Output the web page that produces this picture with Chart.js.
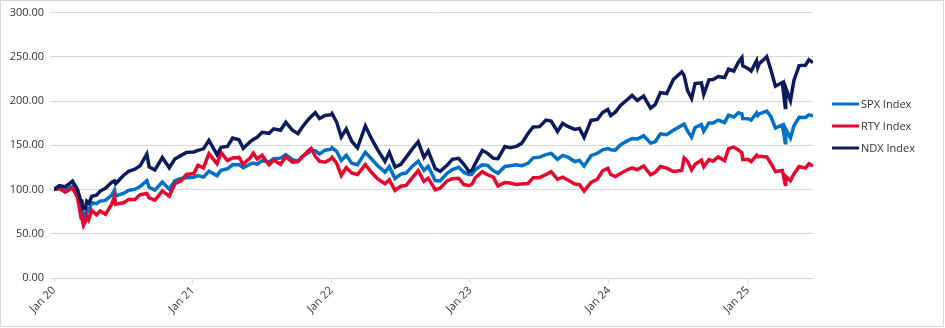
<!DOCTYPE html>
<html>
<head>
<meta charset="utf-8">
<script src="https://cdn.jsdelivr.net/npm/chart.js@4"></script>
<style>
  html, body { margin: 0; padding: 0; background: #fff; }
  #wrap { position: relative; width: 945px; height: 328px; }
</style>
</head>
<body>
<div id="wrap"><canvas id="myChart" width="945" height="328"></canvas></div>
<script>
// x position = months since Jan 2020
const months = [0,0.45,0.97,1.6,2.03,2.35,2.4,2.48,2.55,2.72,2.83,3.0,3.27,3.67,4.0,4.45,5.0,5.23,5.33,6.0,6.45,7.0,7.45,8.03,8.23,8.73,9.37,9.97,10.45,11.0,11.45,
  12.1,12.45,12.93,13.4,14.1,14.45,15.0,15.45,16.0,16.37,17.0,17.23,17.57,18.0,18.6,19.0,19.6,20.05,20.63,21.1,21.45,22.0,22.25,22.6,22.97,23.45,23.97,
  24.05,24.45,24.85,25.28,25.75,26.25,26.93,27.45,28.0,28.63,29.0,29.5,30.0,30.45,31.0,31.5,32.0,32.37,32.97,33.4,34.0,34.45,35.0,35.45,35.9,
  36.15,36.45,37.05,37.5,38.0,38.4,39.0,39.45,40.0,40.45,41.0,41.45,42.0,42.55,43.0,43.55,44.0,44.45,45.05,45.45,45.85,46.45,47.0,47.45,47.9,
  48.15,48.55,49.0,49.5,50.0,50.45,51.0,51.6,52.0,52.45,53.0,53.57,54.3,54.5,54.8,55.15,55.45,56.0,56.2,56.65,57.0,57.45,58.0,58.35,58.8,59.2,59.5,59.57,
  60.05,60.3,60.77,60.87,61.0,61.65,62.0,62.4,63.0,63.25,63.29,63.7,64.0,64.45,65.0,65.3,65.65];

const spx = [100,101.0,99.0,103.9,94.8,76.2,83.2,73.2,73.3,68.7,78.6,75.8,85.2,84.0,86.9,87.7,93.8,99.2,92.8,95.6,99.0,100.4,103.5,109.9,102.5,99.4,108.5,100.4,110.0,112.4,113.4,
  114.0,115.7,114.0,120.7,115.7,121.8,123.4,128.0,128.3,124.7,129.0,129.8,128.6,132.6,131.2,134.9,135.5,139.4,133.8,132.0,137.2,141.6,143.8,143.9,140.2,144.5,145.6,
  147.2,143.1,132.8,138.7,129.8,128.0,142.1,134.8,126.8,119.7,125.9,112.5,117.4,118.6,126.4,132.1,121.7,126.2,110.1,109.8,118.4,122.5,125.1,119.6,116.9,
  117.4,122.7,128.0,127.3,121.3,118.3,126.1,127.0,127.9,126.9,129.6,135.8,136.6,139.5,140.9,134.1,138.6,136.6,131.6,132.8,126.4,138.2,141.0,144.8,146.4,
  145.0,144.6,150.6,154.4,157.7,157.1,160.9,152.5,154.0,162.9,162.0,166.9,172.5,173.9,166.0,159.2,170.1,173.4,166.0,175.3,175.2,178.5,175.8,184.0,182.0,186.9,185.5,180.2,
  180.1,178.5,186.6,183.7,185.4,188.6,182.7,169.5,172.9,152.9,168.5,158.3,172.0,181.6,181.5,184.4,183.2];

const rty = [100,101.3,96.9,101.9,91.1,67.3,73.0,63.6,59.5,63.9,70.8,66.0,76.3,71.4,75.7,72.0,83.7,92.2,83.5,85.0,88.8,88.8,94.2,95.6,90.6,87.9,98.4,92.3,106.8,109.8,117.0,
  118.0,127.3,124.4,140.6,129.2,141.7,132.7,135.7,136.3,128.5,136.3,141.1,134.5,138.7,127.9,133.3,128.5,137.0,131.0,131.5,136.3,144.1,146.6,137.6,131.9,130.9,134.8,
  136.4,129.7,115.9,124.9,118.7,117.0,128.2,119.5,111.9,106.5,111.0,99.0,103.7,104.7,113.4,121.3,109.2,112.8,99.9,101.4,109.8,112.2,112.8,105.6,104.4,
  106.0,113.4,120.1,116.7,114.0,104.1,108.0,107.4,105.6,106.2,106.8,113.4,113.4,117.0,120.2,111.6,114.0,110.7,106.2,105.6,98.2,108.0,111.6,121.2,124.0,
  117.0,114.8,118.2,121.8,124.6,122.4,126.6,116.6,119.4,126.0,124.2,120.4,121.5,135.7,132.0,122.2,128.5,133.1,125.7,133.9,132.1,136.9,132.7,146.2,148.0,144.7,141.5,133.9,
  133.9,131.5,138.7,137.0,137.5,136.9,129.7,120.3,121.5,105.6,115.0,110.0,117.6,126.0,124.2,129.1,126.6];

const ndx = [100,104.4,103.1,109.5,100.1,85.8,88.7,79.1,80.0,79.0,86.6,84.4,92.4,93.6,98.3,101.4,108.2,109.7,106.5,115.9,120.6,122.9,126.8,140.0,125.6,122.1,136.2,124.6,134.5,138.6,142.0,
  142.5,144.3,146.0,155.6,139.5,147.7,148.8,158.3,156.2,146.6,154.4,156.5,159.0,164.6,163.5,168.6,167.0,176.0,167.0,163.1,170.2,179.2,182.5,186.8,180.3,183.7,184.6,
  186.0,176.0,159.4,168.5,154.6,147.0,171.8,157.8,144.9,131.8,142.0,125.4,128.5,136.4,146.0,154.0,136.4,143.6,123.7,120.5,127.4,134.1,135.3,128.5,120.4,
  121.6,129.6,144.3,140.9,135.3,134.9,148.6,147.4,148.8,152.2,163.4,170.8,171.1,178.5,177.5,165.7,174.7,171.3,167.9,169.1,159.0,178.1,179.2,187.1,190.5,
  183.7,187.5,195.0,200.6,206.3,200.6,205.7,192.1,196.1,209.6,208.5,224.3,233.0,229.0,211.9,202.9,219.8,220.6,207.6,224.0,224.3,227.7,226.6,236.0,234.0,244.0,249.1,240.0,
  236.7,234.0,245.7,237.8,242.3,250.2,235.6,216.7,220.9,192.6,215.0,200.6,223.2,240.1,240.5,246.8,243.5];

const seriesNames = ["SPX Index", "RTY Index", "NDX Index"];
const seriesColors = ["#0070C8", "#E5092F", "#0C1A5E"];
const tickPos = [0, 12, 24, 36, 48, 60];
const tickLabels = ["Jan 20", "Jan 21", "Jan 22", "Jan 23", "Jan 24", "Jan 25"];

const FONT = "'Open Sans', sans-serif";
const TEXT = "#333333";

function pts(vals) {
  return vals.map((v, i) => ({ x: months[i], y: v }));
}

// legend + outer frame drawn by hand
const sideLegend = {
  id: "sideLegend",
  afterDraw(chart) {
    const ctx = chart.ctx;
    ctx.save();
    ctx.strokeStyle = "#d9d9d9";
    ctx.lineWidth = 1;
    ctx.strokeRect(0.5, 0.5, 943, 326);
    ctx.font = "11px " + FONT;
    ctx.textBaseline = "middle";
    ctx.fillStyle = TEXT;
    const ys = [104, 126, 148];
    for (let i = 0; i < seriesNames.length; i++) {
      ctx.strokeStyle = seriesColors[i];
      ctx.lineWidth = 3;
      ctx.beginPath();
      ctx.moveTo(832, ys[i]);
      ctx.lineTo(859, ys[i]);
      ctx.stroke();
      ctx.fillText(seriesNames[i], 861, ys[i] + 1);
    }
    ctx.restore();
  }
};

const datasets = [spx, rty, ndx].map((vals, i) => ({
  label: seriesNames[i],
  data: pts(vals),
  borderColor: seriesColors[i],
  backgroundColor: seriesColors[i],
  borderWidth: 3.5,
  pointRadius: 0,
  tension: 0,
  order: 2 - i
}));

new Chart(document.getElementById("myChart"), {
  type: "line",
  data: { datasets: datasets },
  options: {
    responsive: false,
    animation: false,
    layout: { padding: { top: 12, right: 132, left: 0, bottom: 0 } },
    plugins: { legend: { display: false }, tooltip: { enabled: false } },
    scales: {
      x: {
        type: "linear",
        min: 0,
        max: 65.65,
        afterBuildTicks: (s) => { s.ticks = tickPos.map((v) => ({ value: v })); },
        afterFit: (s) => { s.height = 50; },
        grid: { drawOnChartArea: false, drawTicks: true, tickLength: 5, color: "#d9d9d9" },
        border: { display: true, color: "#d9d9d9" },
        ticks: {
          autoSkip: false,
          maxRotation: 45,
          minRotation: 45,
          padding: 1,
          color: TEXT,
          font: { family: FONT, size: 11 },
          callback: (v) => tickLabels[tickPos.indexOf(v)]
        }
      },
      y: {
        min: 0,
        max: 300,
        afterFit: (s) => { s.width = 54; },
        grid: { color: "#d9d9d9", tickLength: 4 },
        border: { display: false },
        ticks: {
          stepSize: 50,
          padding: 6,
          color: TEXT,
          font: { family: FONT, size: 11 },
          callback: (v) => v.toFixed(2)
        }
      }
    }
  },
  plugins: [sideLegend]
});
</script>
</body>
</html>
